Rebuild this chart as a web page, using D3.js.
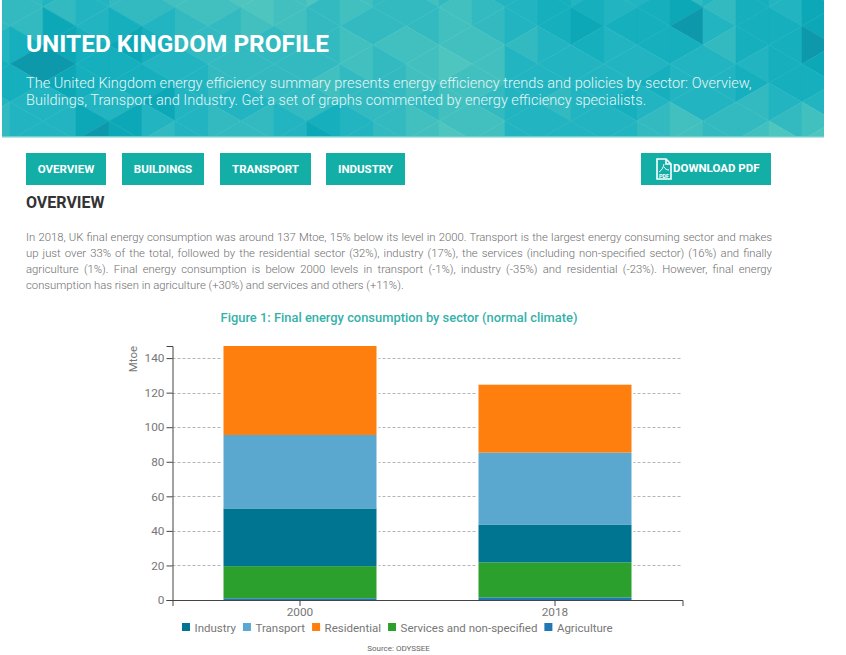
<!DOCTYPE html>
<html>
<head>
<meta charset="utf-8">
<script src="https://cdn.jsdelivr.net/npm/d3@7"></script>
<style>
    html, body { margin: 0; padding: 0; background: #fff; }
    svg { display: block; }
    text { font-family: Roboto, sans-serif; }
</style>
</head>
<body>
<script>
// Chart data
const years = ["2000", "2018"];
const sectors = ["Agriculture", "Services and non-specified", "Industry", "Transport", "Residential"];
const agriculture = [1, 1.5];
const services = [18.6, 20.3];
const industry = [33.4, 21.9];
const transport = [42.5, 41.6];
const residential = [51.5, 39.3];
const yTicks = [0, 20, 40, 60, 80, 100, 120, 140];
const legendOrder = ["Industry", "Transport", "Residential", "Services and non-specified", "Agriculture"];
const sectorColors = ["#1f77b4", "#2ca02c", "#007592", "#5aa7cf", "#ff7f0e"];

// Page text
const introLines = [
    "The United Kingdom energy efficiency summary presents energy efficiency trends and policies by sector: Overview,",
    "Buildings, Transport and Industry. Get a set of graphs commented by energy efficiency specialists."
];
const bodyLines = [
    "In 2018, UK final energy consumption was around 137 Mtoe, 15% below its level in 2000. Transport is the largest energy consuming sector and makes",
    "up just over 33% of the total, followed by the residential sector (32%), industry (17%), the services (including non-specified sector) (16%) and finally",
    "agriculture (1%). Final energy consumption is below 2000 levels in transport (-1%), industry (-35%) and residential (-23%). However, final energy",
    "consumption has risen in agriculture (+30%) and services and others (+11%)."
];
const navButtons = ["OVERVIEW", "BUILDINGS", "TRANSPORT", "INDUSTRY"];

// Banner mosaic, one string per column, shade index per triangle from the top
const mosaic = [
    "444322344", "444202333", "341101333", "333222310", "442122311", "543232134",
    "554433333", "654444344", "665444344", "555444433", "644445421", "554554433",
    "444544444", "544555455", "455565556", "344555455", "333433333", "222333433",
    "321233333", "332333233", "322232344", "410233355", "343433344", "222232445",
    "332222346", "211012356"
];
const mosaicShades = ["#1199ab", "#0fa8b7", "#14afbd", "#22b4c0", "#32bac0", "#42c0bf", "#50c5bf"];

// Create SVG
const width = 846, height = 655;
const svg = d3.select("body")
    .append("svg")
    .attr("width", width)
    .attr("height", height);

// Banner
svg.append("clipPath")
    .attr("id", "bannerClip")
    .append("rect")
    .attr("x", 2)
    .attr("y", 0)
    .attr("width", 822)
    .attr("height", 137);

svg.append("filter")
    .attr("id", "soften")
    .append("feGaussianBlur")
    .attr("stdDeviation", 0.7);

const banner = svg.append("g")
    .attr("clip-path", "url(#bannerClip)")
    .append("g")
    .attr("filter", "url(#soften)");
const colStep = 33, rowStep = 38;

mosaic.forEach((col, c) => {
    const x0 = -23 + c * colStep, x1 = x0 + colStep;
    // Left edge of odd grid columns starts higher than the right edge
    const leftFirst = c % 2 === 0;
    const top = -31, mid = -12;
    const edge = [];
    for (let j = 0; j < 12; j++) {
        edge.push([x0, (leftFirst ? top : mid) + j * rowStep]);
        edge.push([x1, (leftFirst ? mid : top) + j * rowStep]);
    }
    edge.sort((a, b) => a[1] - b[1]);
    col.split("").forEach((shade, t) => {
        banner.append("polygon")
            .attr("points", [edge[t], edge[t + 1], edge[t + 2]].map(p => p.join(",")).join(" "))
            .attr("fill", mosaicShades[+shade])
            .attr("stroke", mosaicShades[+shade])
            .attr("stroke-width", 0.5);
    });
});

svg.append("rect")
    .attr("x", 2)
    .attr("y", 136)
    .attr("width", 822)
    .attr("height", 1.5)
    .attr("fill", "#6fd0cf");

svg.append("text")
    .attr("x", 26)
    .attr("y", 52)
    .attr("fill", "#fff")
    .attr("font-size", 24.4)
    .attr("font-weight", 700)
    .text("UNITED KINGDOM PROFILE");

svg.selectAll(".intro")
    .data(introLines)
    .join("text")
    .attr("class", "intro")
    .attr("x", 26)
    .attr("y", (d, i) => 88 + i * 17)
    .attr("fill", "#e6f6f6")
    .attr("font-size", 14.55)
    .attr("font-weight", 300)
    .text(d => d);

// Buttons
const buttonColor = "#13afa7";
const navBoxes = [[26, 80], [122, 82], [220, 91], [326, 79]];
navButtons.forEach((label, i) => {
    const [bx, bw] = navBoxes[i];
    svg.append("rect")
        .attr("x", bx)
        .attr("y", 153)
        .attr("width", bw)
        .attr("height", 32)
        .attr("fill", buttonColor);
    svg.append("text")
        .attr("x", bx + bw / 2)
        .attr("y", 173)
        .attr("text-anchor", "middle")
        .attr("fill", "#fff")
        .attr("font-size", 11.5)
        .attr("font-weight", 700)
        .text(label);
});

svg.append("rect")
    .attr("x", 641)
    .attr("y", 153)
    .attr("width", 130)
    .attr("height", 32)
    .attr("fill", buttonColor);

// PDF icon
const icon = svg.append("g").attr("transform", "translate(656,158)");
icon.append("path")
    .attr("d", "M1,1 H10 L15,6 V21 H1 Z M10,1 V6 H15")
    .attr("fill", "none")
    .attr("stroke", "#fff")
    .attr("stroke-width", 1.6);
icon.append("path")
    .attr("d", "M8,6 C7,10 6,12 3,14 M8,9 C9,11 11,12 13,12")
    .attr("fill", "none")
    .attr("stroke", "#fff")
    .attr("stroke-width", 1);
icon.append("text")
    .attr("x", 8)
    .attr("y", 20)
    .attr("text-anchor", "middle")
    .attr("fill", "#fff")
    .attr("font-size", 5.5)
    .attr("font-weight", 700)
    .text("PDF");

svg.append("text")
    .attr("x", 673)
    .attr("y", 172)
    .attr("fill", "#fff")
    .attr("font-size", 11.5)
    .attr("font-weight", 700)
    .text("DOWNLOAD PDF");

// Section heading
svg.append("text")
    .attr("x", 26)
    .attr("y", 208)
    .attr("fill", "#333")
    .attr("font-size", 16)
    .attr("font-weight", 700)
    .text("OVERVIEW");

// Justified body text
svg.selectAll(".body")
    .data(bodyLines)
    .join("text")
    .attr("class", "body")
    .attr("x", 26)
    .attr("y", (d, i) => 241 + i * 16)
    .attr("fill", "#6e6e6e")
    .attr("font-size", 11.3)
    .attr("font-weight", 300)
    .text(d => d)
    .each(function (d, i) {
        if (i === bodyLines.length - 1) return;
        const gaps = d.split(" ").length - 1;
        const spare = 746 - this.getComputedTextLength();
        d3.select(this).attr("word-spacing", spare / gaps);
    });

svg.append("text")
    .attr("x", 399)
    .attr("y", 322)
    .attr("text-anchor", "middle")
    .attr("fill", "#35b1aa")
    .attr("font-size", 12.9)
    .attr("font-weight", 500)
    .text("Figure 1: Final energy consumption by sector (normal climate)");

// Stack the sectors
const rows = years.map((year, i) => ({
    year: year,
    Agriculture: agriculture[i],
    "Services and non-specified": services[i],
    Industry: industry[i],
    Transport: transport[i],
    Residential: residential[i]
}));
const stacked = d3.stack().keys(sectors)(rows);
const color = d3.scaleOrdinal(sectors, sectorColors);

// Scales
const x = d3.scaleBand()
    .domain(years)
    .range([172.5, 682.5])
    .paddingInner(0.4)
    .paddingOuter(0.2);
const y = d3.scaleLinear()
    .domain([0, d3.max(stacked[stacked.length - 1], d => d[1])])
    .range([600, 346]);

// Grid
svg.append("g")
    .selectAll("line")
    .data(yTicks.slice(1))
    .join("line")
    .attr("x1", x.range()[0])
    .attr("x2", x.range()[1])
    .attr("y1", d => Math.round(y(d)) + 0.5)
    .attr("y2", d => Math.round(y(d)) + 0.5)
    .attr("stroke", "#b5b5b5")
    .attr("stroke-width", 1)
    .attr("stroke-dasharray", "3,2");

// White margin beside the bars, the grid stops short of them
svg.append("g")
    .selectAll("rect")
    .data(stacked[stacked.length - 1])
    .join("rect")
    .attr("x", d => x(d.data.year) - 2)
    .attr("y", d => y(d[1]))
    .attr("width", x.bandwidth() + 4)
    .attr("height", d => y(0) - y(d[1]))
    .attr("fill", "#fff");

// Bars
svg.append("g")
    .selectAll("g")
    .data(stacked)
    .join("g")
    .attr("fill", d => color(d.key))
    .selectAll("rect")
    .data(d => d)
    .join("rect")
    .attr("x", d => x(d.data.year))
    .attr("y", d => y(d[1]))
    .attr("width", x.bandwidth())
    .attr("height", d => y(d[0]) - y(d[1]));

// Axes
const xAxis = svg.append("g")
    .attr("transform", "translate(0,600)")
    .call(d3.axisBottom(x).tickSize(6).tickPadding(2));
const yAxis = svg.append("g")
    .attr("transform", "translate(172.5,0)")
    .call(d3.axisLeft(y).tickValues(yTicks).tickSize(6).tickPadding(2));

[xAxis, yAxis].forEach(axis => {
    axis.selectAll("path, line").attr("stroke", "#444");
    axis.selectAll("text")
        .attr("fill", "#777")
        .attr("font-family", "Roboto, sans-serif")
        .attr("font-size", 11.8);
});

svg.append("text")
    .attr("transform", "translate(137,359) rotate(-90)")
    .attr("text-anchor", "middle")
    .attr("fill", "#777")
    .attr("font-size", 11.5)
    .text("Mtoe");

// Legend
let legendX = 182;
legendOrder.forEach(name => {
    svg.append("rect")
        .attr("x", legendX)
        .attr("y", 623)
        .attr("width", 8)
        .attr("height", 8)
        .attr("fill", color(name));
    const label = svg.append("text")
        .attr("x", legendX + 12.5)
        .attr("y", 631.5)
        .attr("fill", "#777")
        .attr("font-size", 11.5)
        .text(name);
    legendX += 12.5 + label.node().getComputedTextLength() + 7;
});

svg.append("text")
    .attr("x", 398.5)
    .attr("y", 651)
    .attr("text-anchor", "middle")
    .attr("fill", "#666")
    .attr("font-size", 8)
    .text("Source: ODYSSEE");
</script>
</body>
</html>
